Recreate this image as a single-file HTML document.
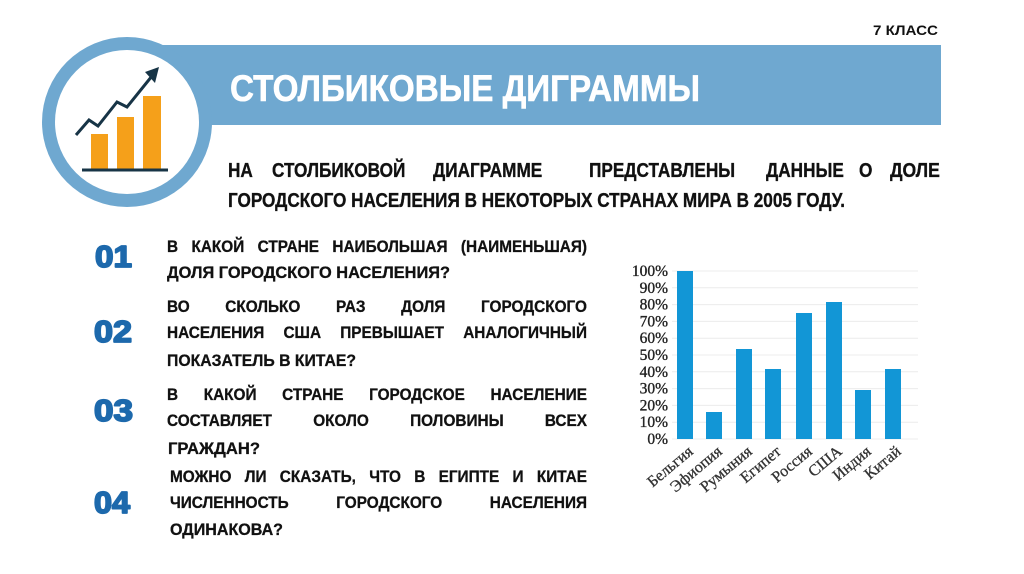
<!DOCTYPE html>
<html><head><meta charset="utf-8">
<style>
html,body{margin:0;padding:0;background:#fff;}
body{width:1024px;height:574px;position:relative;overflow:hidden;font-family:"Liberation Sans",sans-serif;}
svg{position:absolute;left:0;top:0;}
.q{position:absolute;display:flex;justify-content:space-between;white-space:nowrap;font-weight:bold;font-size:16.5px;line-height:16.5px;height:16.5px;color:#111;transform-origin:0 0;transform:scaleX(0.93);-webkit-text-stroke:0.3px #111;}
.a{left:167px;width:451.6px;}
.b{left:170px;width:448.4px;}
</style></head><body>
<svg width="1024" height="574" viewBox="0 0 1024 574" xmlns="http://www.w3.org/2000/svg">
  <!-- banner -->
  <rect x="127" y="45" width="814" height="80" fill="#6fa8d0"/>
  <circle cx="127" cy="122" r="85" fill="#6fa8d0"/>
  <circle cx="127" cy="122" r="72" fill="#ffffff"/>
  <!-- icon -->
  <rect x="91" y="134" width="17" height="35" fill="#f5a01a"/>
  <rect x="117" y="117" width="17" height="52" fill="#f5a01a"/>
  <rect x="143" y="96" width="18" height="73" fill="#f5a01a"/>
  <line x1="82" y1="170" x2="168" y2="170" stroke="#173446" stroke-width="3"/>
  <polyline points="76,135 89,120 98,126 117,102 127,107 152,76" fill="none" stroke="#173446" stroke-width="3" stroke-linejoin="miter"/>
  <polygon points="159,67 145,72 155,83" fill="#173446"/>
  <!-- title -->
  <text x="230" y="101" font-family="Liberation Sans" font-weight="bold" font-size="37" fill="#ffffff" stroke="#ffffff" stroke-width="0.6" textLength="470" lengthAdjust="spacingAndGlyphs">СТОЛБИКОВЫЕ ДИГРАММЫ</text>
  <text x="873" y="35" font-family="Liberation Sans" font-weight="bold" font-size="14" fill="#111" textLength="65" lengthAdjust="spacingAndGlyphs">7 КЛАСС</text>
  <!-- paragraph -->
  <g font-family="Liberation Sans" font-weight="bold" font-size="20" fill="#111" stroke="#111" stroke-width="0.35">
    <text transform="translate(228,177) scale(0.86,1)">НА</text>
    <text transform="translate(272,177) scale(0.86,1)">СТОЛБИКОВОЙ</text>
    <text transform="translate(433,177) scale(0.86,1)">ДИАГРАММЕ</text>
    <text transform="translate(589,177) scale(0.86,1)">ПРЕДСТАВЛЕНЫ</text>
    <text transform="translate(766,177) scale(0.86,1)">ДАННЫЕ</text>
    <text transform="translate(859,177) scale(0.86,1)">О</text>
    <text transform="translate(890,177) scale(0.88,1)">ДОЛЕ</text>
    <text x="228" y="207" textLength="617" lengthAdjust="spacingAndGlyphs">ГОРОДСКОГО НАСЕЛЕНИЯ В НЕКОТОРЫХ СТРАНАХ МИРА В 2005 ГОДУ.</text>
  </g>
  <!-- numbers -->
  <g font-family="Liberation Sans" font-weight="bold" font-size="31" fill="#1d69ac" stroke="#1d69ac" stroke-width="1.8" stroke-linejoin="round">
    <text x="95" y="267" textLength="37" lengthAdjust="spacingAndGlyphs">01</text>
    <text x="94" y="342" textLength="38" lengthAdjust="spacingAndGlyphs">02</text>
    <text x="94" y="421" textLength="39" lengthAdjust="spacingAndGlyphs">03</text>
    <text x="94" y="513" textLength="36" lengthAdjust="spacingAndGlyphs">04</text>
  </g>
  <!-- non-justified question lines -->
  <g font-family="Liberation Sans" font-weight="bold" font-size="16.5" fill="#111" stroke="#111" stroke-width="0.3">
    <text x="167" y="278" textLength="283" lengthAdjust="spacingAndGlyphs">ДОЛЯ ГОРОДСКОГО НАСЕЛЕНИЯ?</text>
    <text x="167" y="366" textLength="189" lengthAdjust="spacingAndGlyphs">ПОКАЗАТЕЛЬ В КИТАЕ?</text>
    <text x="168" y="454" textLength="92" lengthAdjust="spacingAndGlyphs">ГРАЖДАН?</text>
    <text x="170" y="535" textLength="113" lengthAdjust="spacingAndGlyphs">ОДИНАКОВА?</text>
  </g>
  <!-- chart -->
  <g stroke="#ececec" stroke-width="1">
    <line x1="672" y1="439" x2="918" y2="439"/>
    <line x1="672" y1="422.2" x2="918" y2="422.2"/>
    <line x1="672" y1="405.4" x2="918" y2="405.4"/>
    <line x1="672" y1="388.6" x2="918" y2="388.6"/>
    <line x1="672" y1="371.8" x2="918" y2="371.8"/>
    <line x1="672" y1="355" x2="918" y2="355"/>
    <line x1="672" y1="338.2" x2="918" y2="338.2"/>
    <line x1="672" y1="321.4" x2="918" y2="321.4"/>
    <line x1="672" y1="304.6" x2="918" y2="304.6"/>
    <line x1="672" y1="287.8" x2="918" y2="287.8"/>
    <line x1="672" y1="271" x2="918" y2="271"/>
  </g>
  <g fill="#1296d6">
    <rect x="677" y="271" width="16" height="168"/>
    <rect x="706" y="412" width="16" height="27"/>
    <rect x="736" y="349" width="16" height="90"/>
    <rect x="765" y="369" width="16" height="70"/>
    <rect x="796" y="313" width="16" height="126"/>
    <rect x="826" y="302" width="16" height="137"/>
    <rect x="855" y="390" width="16" height="49"/>
    <rect x="885" y="369" width="16" height="70"/>
  </g>
  <g font-family="Liberation Serif" font-size="15.5" fill="#222" stroke="#222" stroke-width="0.35" text-anchor="end">
    <text x="668" y="444">0%</text>
    <text x="668" y="427.2">10%</text>
    <text x="668" y="410.4">20%</text>
    <text x="668" y="393.6">30%</text>
    <text x="668" y="376.8">40%</text>
    <text x="668" y="360">50%</text>
    <text x="668" y="343.2">60%</text>
    <text x="668" y="326.4">70%</text>
    <text x="668" y="309.6">80%</text>
    <text x="668" y="292.8">90%</text>
    <text x="668" y="276">100%</text>
  </g>
  <g font-family="Liberation Serif" font-size="16" fill="#333" stroke="#333" stroke-width="0.3" text-anchor="end">
    <text transform="translate(694,453) rotate(-40)">Бельгия</text>
    <text transform="translate(723,453) rotate(-40)">Эфиопия</text>
    <text transform="translate(753,453) rotate(-40)">Румыния</text>
    <text transform="translate(782,453) rotate(-40)">Египет</text>
    <text transform="translate(813,453) rotate(-40)">Россия</text>
    <text transform="translate(843,453) rotate(-40)">США</text>
    <text transform="translate(872,453) rotate(-40)">Индия</text>
    <text transform="translate(902,453) rotate(-40)">Китай</text>
  </g>
</svg>

<!-- justified question lines -->
<div class="q a" style="top:239px"><span>В</span><span>КАКОЙ</span><span>СТРАНЕ</span><span>НАИБОЛЬШАЯ</span><span>(НАИМЕНЬШАЯ)</span></div>

<div class="q a" style="top:299px"><span>ВО</span><span>СКОЛЬКО</span><span>РАЗ</span><span>ДОЛЯ</span><span>ГОРОДСКОГО</span></div>
<div class="q a" style="top:325px"><span>НАСЕЛЕНИЯ</span><span>США</span><span>ПРЕВЫШАЕТ</span><span>АНАЛОГИЧНЫЙ</span></div>

<div class="q a" style="top:387px"><span>В</span><span>КАКОЙ</span><span>СТРАНЕ</span><span>ГОРОДСКОЕ</span><span>НАСЕЛЕНИЕ</span></div>
<div class="q a" style="top:413px"><span>СОСТАВЛЯЕТ</span><span>ОКОЛО</span><span>ПОЛОВИНЫ</span><span>ВСЕХ</span></div>

<div class="q b" style="top:469px"><span>МОЖНО</span><span>ЛИ</span><span>СКАЗАТЬ,</span><span>ЧТО</span><span>В</span><span>ЕГИПТЕ</span><span>И</span><span>КИТАЕ</span></div>
<div class="q b" style="top:495px"><span>ЧИСЛЕННОСТЬ</span><span>ГОРОДСКОГО</span><span>НАСЕЛЕНИЯ</span></div>
</body></html>
